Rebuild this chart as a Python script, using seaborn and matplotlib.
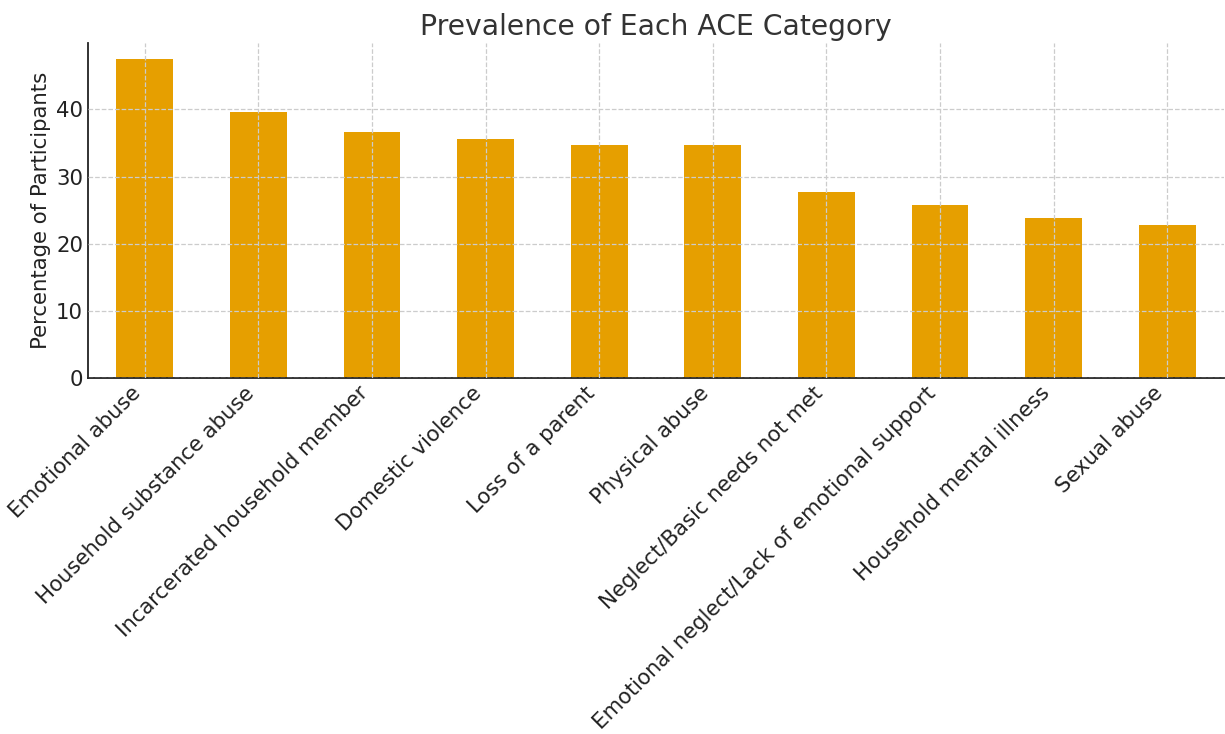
import matplotlib
matplotlib.use("Agg")
import matplotlib.pyplot as plt
import seaborn as sns
import pandas as pd

categories = [
    "Emotional abuse",
    "Household substance abuse",
    "Incarcerated household member",
    "Domestic violence",
    "Loss of a parent",
    "Physical abuse",
    "Neglect/Basic needs not met",
    "Emotional neglect/Lack of emotional support",
    "Household mental illness",
    "Sexual abuse",
]
percentages = [47.5, 39.6, 36.6, 35.6, 34.7, 34.7, 27.7, 25.7, 23.8, 22.8]

df = pd.DataFrame({"category": categories, "pct": percentages})

sns.set_style("white")
plt.rcParams["font.family"] = ["DejaVu Sans"]

fig = plt.figure(figsize=(12.25, 7.34), dpi=100)
ax = fig.add_axes([88/1225, 1 - 378/734, (1224 - 88)/1225, (378 - 43)/734])

sns.barplot(data=df, x="category", y="pct", color="#E69F00", saturation=1,
            width=0.5, linewidth=0, ax=ax)

ax.set_xlim(-0.5, 9.5)
ax.set_ylim(0, 49.9)
ax.set_yticks([0, 10, 20, 30, 40])
ax.grid(True, linestyle="--", color="#cccccc", linewidth=0.9)
ax.set_axisbelow(False)
for s in ["top", "right"]:
    ax.spines[s].set_visible(False)
for s in ["left", "bottom"]:
    ax.spines[s].set_color("#222222")
    ax.spines[s].set_linewidth(1.3)

ax.tick_params(axis="both", direction="in", length=5, colors="#222222",
               labelsize=15.3, labelcolor="#222222")
plt.setp(ax.get_xticklabels(), rotation=45, ha="right")
ax.set_xlabel("")
ax.set_ylabel("Percentage of Participants", fontsize=15.3, color="#222222")
ax.set_title("Prevalence of Each ACE Category", fontsize=20.3, color="#333333", pad=6)

fig.savefig("out.png", dpi=100)
